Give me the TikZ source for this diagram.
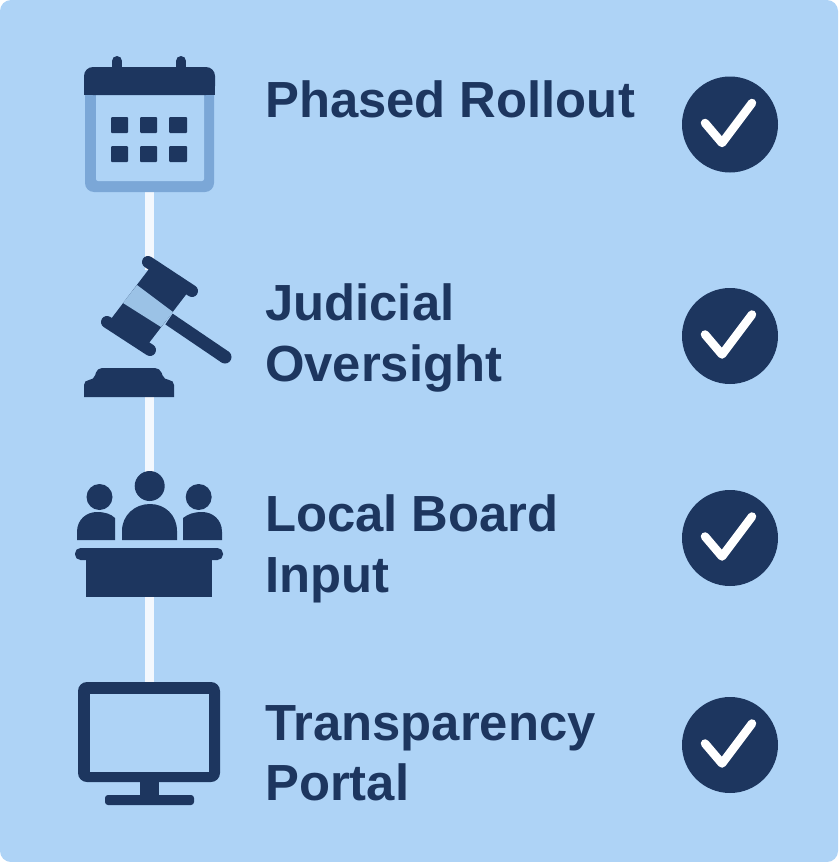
\documentclass[tikz,border=0pt]{standalone}
\usepackage{fontspec}
\setmainfont{Liberation Sans}
\definecolor{panelblue}{HTML}{AED3F6}
\definecolor{navy}{HTML}{1D365F}
\definecolor{midblue}{HTML}{7BA7D7}
\definecolor{bandblue}{HTML}{9BC2E6}
\tikzset{
  iconbox/.style = {minimum width=#1, inner sep=0pt, outer sep=0pt},
  link/.style = {draw=white!85!panelblue, line width=9pt},
  rowlabel/.style = {anchor=west, align=left, inner sep=0pt, text=navy,
    font=\fontsize{50.8}{60.5}\selectfont\bfseries},
  checkdisc/.style = {circle, fill=navy, minimum size=96pt, inner sep=0pt},
  tickmark/.pic = {\draw[white, line width=8.5pt, line cap=round, line join=round]
    (-25,-1.5) -- (-8,18.5) -- (22,-21.5);}
}
\begin{document}
\begin{tikzpicture}[x=1pt,y=-1pt]
   \useasboundingbox (0,0) rectangle (838,862);
   \fill[panelblue, rounded corners=11pt] (0,0) rectangle (838,862);
   \node[iconbox=130pt, minimum height=136pt] (calendar) at (149.5,124) {};
   \node[iconbox=146pt, minimum height=110pt] (gavel) at (149.5,325) {};
   \node[iconbox=148pt, minimum height=117pt] (board) at (149.5,538.5) {};
   \node[iconbox=142pt, minimum height=123pt] (monitor) at (149.5,743.5) {};
   \draw[link] (calendar.south) -- (gavel.north)
               (gavel.south) -- (board.north)
               (board.south) -- (monitor.north);
   % calendar
   \fill[midblue, rounded corners=9pt] (85,80) rectangle (214,192);
   \fill[panelblue, rounded corners=2pt] (96,90) rectangle (204,181);
   \fill[navy, rounded corners=9pt] (84,67) rectangle (215,95);
   \fill[navy] (84,85) rectangle (215,95);
   \draw[navy, line width=10pt, line cap=round] (117,61) -- (117,72)  (181,61) -- (181,72);
   \fill[navy, rounded corners=1pt]
        (111,117) rectangle (128,133)  (140,117) rectangle (157,133)  (169,117) rectangle (187,133)
        (111,146) rectangle (128,162)  (140,146) rectangle (157,162)  (169,146) rectangle (187,162);
   % gavel
   \fill[navy] (149,269) -- (188,292) -- (149,343) -- (111,319) -- cycle;
   \fill[bandblue] (137,285) -- (173,312) -- (161,327) -- (123,303) -- cycle;
   \draw[navy, line width=12pt, line cap=round] (148,262) -- (192,291)  (107,322) -- (150,350);
   \draw[navy, line width=13pt] (169,319) -- (225,357);
   \fill[navy] (225,357) circle (6.5);
   \fill[navy] (84,397) [rounded corners=5pt] -- (84,380) -- (94,380) -- (97,368) -- (160,368)
        -- (164,380) -- (174,380) [sharp corners] -- (174,397) -- cycle;
   % board
   \fill[navy] (99.5,497) circle (13)  (149.7,486) circle (15)  (198.7,497) circle (13);
   \fill[navy] (77,540) -- (77,532) .. controls (77,519) and (87,512) .. (97,512)
        .. controls (105,512) and (111,514) .. (115,518) -- (115,540) -- cycle;
   \fill[navy] (122,540) -- (122,531) .. controls (122,515) and (135,504) .. (150,504)
        .. controls (165,504) and (177,515) .. (177,531) -- (177,540) -- cycle;
   \fill[navy] (222,540) -- (222,532) .. controls (222,519) and (212,512) .. (202,512)
        .. controls (194,512) and (188,514) .. (183,518) -- (183,540) -- cycle;
   \fill[navy, rounded corners=5.5pt] (75,548) rectangle (223,560);
   \fill[navy] (86,556) rectangle (212,597);
   % monitor
   \fill[navy, rounded corners=9pt] (78,682) rectangle (220,782);
   \fill[panelblue] (90,694) rectangle (209,772);
   \fill[navy] (140,780) rectangle (159,797);
   \fill[navy, rounded corners=3pt] (105,795) rectangle (194,805);
   % labels
   \node[rowlabel] (rollout) at (265,99) {Phased Rollout};
   \node[rowlabel] (oversight) at (265,337.8) {Judicial\\Oversight};
   \node[rowlabel] (input) at (265,548.8) {Local Board\\Input};
   \node[rowlabel] (portal) at (265,753.3) {Transparency\\Portal};
   % checks
   \node[checkdisc] (checkA) at (730,124.5) {};
   \node[checkdisc] (checkB) at (730,336) {};
   \node[checkdisc] (checkC) at (730,538) {};
   \node[checkdisc] (checkD) at (730,745) {};
   \pic at (checkA) {tickmark};
   \pic at (checkB) {tickmark};
   \pic at (checkC) {tickmark};
   \pic at (checkD) {tickmark};
\end{tikzpicture}
\end{document}
